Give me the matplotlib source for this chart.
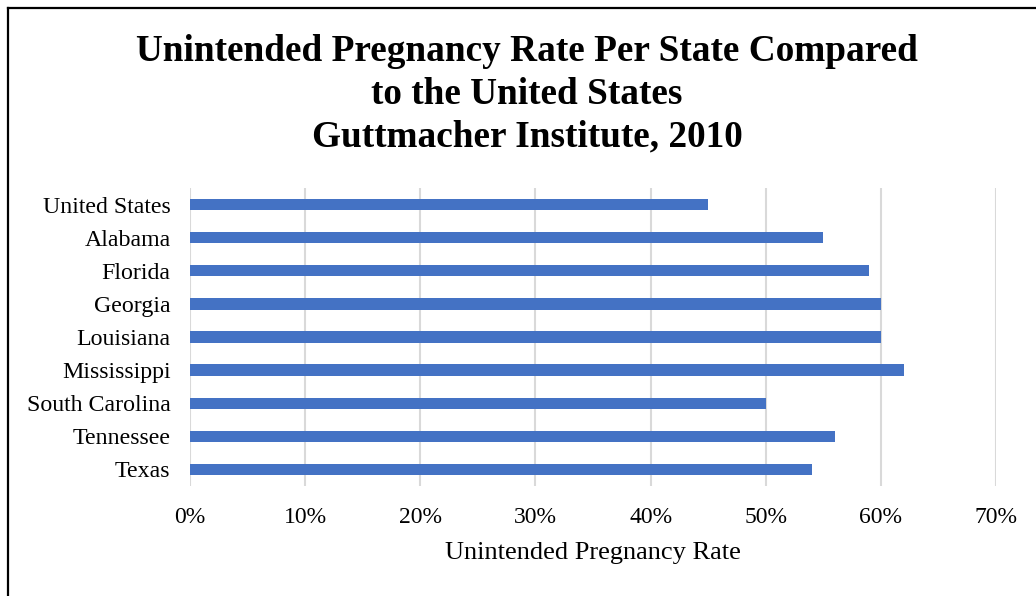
import matplotlib.pyplot as plt
from matplotlib.lines import Line2D
from matplotlib.ticker import PercentFormatter

states = ["United States", "Alabama", "Florida", "Georgia", "Louisiana",
          "Mississippi", "South Carolina", "Tennessee", "Texas"]
rates = [45, 55, 59, 60, 60, 62, 50, 56, 54]
ticks = [0, 10, 20, 30, 40, 50, 60, 70]

plt.rcParams['font.family'] = ['Liberation Serif', 'DejaVu Serif']

W, H = 1036, 596
fig = plt.figure(figsize=(W / 100, H / 100), dpi=100)
ax = fig.add_axes([190 / W, 1 - 486 / H, 806 / W, 298 / H])

ypos = list(range(len(states)))
ax.barh(ypos, rates, height=0.34, color="#4472C4", zorder=3)
ax.set_yticks(ypos)
ax.set_yticklabels(states)
ax.set_ylim(len(states) - 0.5, -0.5)
ax.set_xlim(0, 70)
ax.set_xticks(ticks)
ax.xaxis.set_major_formatter(PercentFormatter(decimals=0))
ax.grid(axis="x", color="#d9d9d9", linewidth=1.5, zorder=0)
for s in ax.spines.values():
    s.set_visible(False)
ax.tick_params(axis="y", length=0, pad=14, labelsize=17.2)
ax.tick_params(axis="x", length=0, pad=15, labelsize=17)
ax.set_xlabel("Unintended Pregnancy Rate", fontsize=19, labelpad=10)

fig.text(527 / W, 1 - 34 / H,
         "Unintended Pregnancy Rate Per State Compared\nto the United States\nGuttmacher Institute, 2010",
         ha="center", va="top", fontsize=26.8, fontweight="bold", linespacing=1.29)

# frame on the left and top edges
fig.add_artist(Line2D([7.5 / W, 7.5 / W], [0, 1 - 7.5 / H], color="black", linewidth=1.6))
fig.add_artist(Line2D([7.5 / W, 1], [1 - 7.5 / H, 1 - 7.5 / H], color="black", linewidth=1.6))

fig.savefig("out.png", dpi=100)
